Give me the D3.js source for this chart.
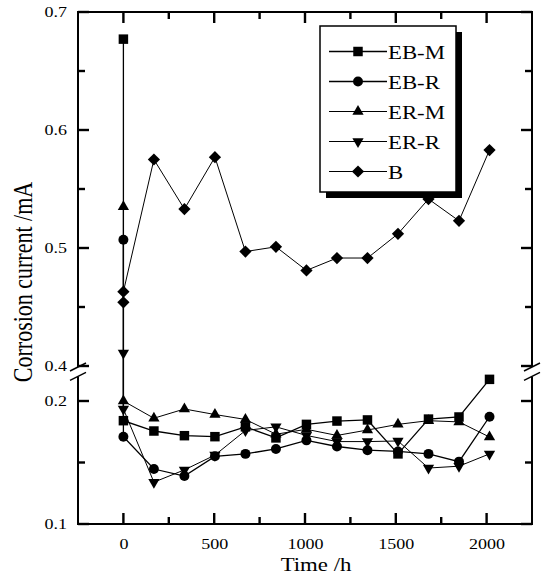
<!DOCTYPE html>
<html>
<head>
<meta charset="utf-8">
<script src="https://cdnjs.cloudflare.com/ajax/libs/d3/7.8.5/d3.min.js"></script>
<style>
body{margin:0;background:#fff}
text{font-family:"Liberation Serif","Times New Roman",serif;fill:#000}
</style>
</head>
<body>
<script>

// hours, first two readings both at t=0 (initial + after immersion)
var times = [0, 0, 168, 336, 504, 672, 840, 1008, 1176, 1344, 1512, 1680, 1848, 2016]

var ebM = [0.677, 0.184, 0.1756, 0.1718, 0.171, 0.179, 0.170, 0.181, 0.1837, 0.1846, 0.157, 0.1853, 0.187, 0.2176]
var ebR = [0.507, 0.171, 0.1447, 0.139, 0.155, 0.157, 0.161, 0.168, 0.163, 0.160, 0.159, 0.157, 0.1507, 0.1872]
var erM = [0.535, 0.200, 0.186, 0.1935, 0.189, 0.185, 0.173, 0.177, 0.172, 0.1764, 0.181, 0.184, 0.183, 0.1707]
var erR = [0.411, 0.1935, 0.134, 0.144, 0.156, 0.176, 0.179, 0.172, 0.167, 0.167, 0.1675, 0.1455, 0.147, 0.157]
var bVals = [0.454, 0.463, 0.575, 0.533, 0.577, 0.497, 0.501, 0.481, 0.4915, 0.4915, 0.512, 0.5415, 0.523, 0.583]

var names = ['EB-M', 'EB-R', 'ER-M', 'ER-R', 'B']

var xMajor = [0, 500, 1000, 1500, 2000],
	xMinor = [250, 750, 1250, 1750]
var yMajor = [0.1, 0.2, 0.4, 0.5, 0.6, 0.7],
	yMinor = [0.15, 0.45, 0.55, 0.65]

var W = 541, H = 576,
	pLeft = 78, pRight = 532, pTop = 12, pBottom = 524

var x = d3.scaleLinear().domain([-250, 2250]).range([pLeft, pRight])
// broken axis: 0.1-0.22 below the break, 0.4-0.7 above
var y = d3.scaleLinear().domain([0.1, 0.22, 0.4, 0.7]).range([pBottom, 376.4, 366, pTop])

var series = [
	{name: names[0], vals: ebM, sym: d3.symbolSquare, size: 90, rot: 0, w: 1.3},
	{name: names[1], vals: ebR, sym: d3.symbolCircle, size: 78, rot: 0, w: 1.3},
	{name: names[2], vals: erM, sym: d3.symbolTriangle, size: 55, rot: 0, w: 1},
	{name: names[3], vals: erR, sym: d3.symbolTriangle, size: 55, rot: 180, w: 1},
	{name: names[4], vals: bVals, sym: d3.symbolSquare, size: 75, rot: 45, w: 1}
]

var svg = d3.select('body').append('svg')
	.attr('width', W)
	.attr('height', H)

// tick labels from d3 axes (tick marks drawn separately below)
var xAxis = svg.append('g')
	.attr('transform', 'translate(0,' + pBottom + ')')
	.call(d3.axisBottom(x).tickValues(xMajor).tickSize(0).tickFormat(d3.format('d')))
	.attr('font-size', 15).attr('font-family', null)
xAxis.select('.domain').remove()
xAxis.selectAll('text').attr('y', 25).attr('dy', null).attr('transform', 'scale(1.2,1)')

var yAxis = svg.append('g')
	.attr('transform', 'translate(' + pLeft + ',0)')
	.call(d3.axisLeft(y).tickValues(yMajor).tickSize(0).tickFormat(d3.format('.1f')))
	.attr('font-size', 15).attr('font-family', null)
yAxis.select('.domain').remove()
yAxis.selectAll('text').attr('x', -9.2).attr('transform', 'scale(1.2,1)')

// inward ticks on all four sides
var tickG = svg.append('g').attr('fill', '#000')
function xTicks(vals, len){
	vals.forEach(function(v){
		tickG.append('rect').attr('x', x(v) - 1.2).attr('width', 2.4).attr('y', pBottom - len).attr('height', len)
		tickG.append('rect').attr('x', x(v) - 1.2).attr('width', 2.4).attr('y', pTop).attr('height', len)
	})
}
function yTicks(vals, len){
	vals.forEach(function(v){
		tickG.append('rect').attr('y', y(v) - 1.2).attr('height', 2.4).attr('x', pLeft).attr('width', len)
		tickG.append('rect').attr('y', y(v) - 1.2).attr('height', 2.4).attr('x', pRight - len).attr('width', len)
	})
}
xTicks(xMajor, 11)
xTicks(xMinor, 7)
yTicks(yMajor, 11)
yTicks(yMinor, 7)

// frame with the break on both sides
var frame = svg.append('g').attr('stroke', '#000').attr('stroke-width', 2)
frame.append('line').attr('x1', pLeft - 1).attr('x2', pRight + 1).attr('y1', pTop).attr('y2', pTop)
frame.append('line').attr('x1', pLeft - 1).attr('x2', pRight + 1).attr('y1', pBottom).attr('y2', pBottom)
var brkTop = y(0.4) + 1, brkBot = y(0.22)
;[pLeft, pRight].forEach(function(ex){
	frame.append('line').attr('x1', ex).attr('x2', ex).attr('y1', pTop).attr('y2', brkTop)
	frame.append('line').attr('x1', ex).attr('x2', ex).attr('y1', brkBot).attr('y2', pBottom)
	;[brkTop, brkBot].forEach(function(by){
		frame.append('line')
			.attr('x1', ex - 8).attr('y1', by + 4)
			.attr('x2', ex + 8).attr('y2', by - 4)
			.attr('stroke-width', 1.5)
	})
})

// data
var lineGen = d3.line()
	.x(function(d, i){ return x(times[i]) })
	.y(function(d){ return y(d) })

series.forEach(function(s){
	svg.append('path')
		.attr('d', lineGen(s.vals))
		.attr('fill', 'none')
		.attr('stroke', '#000')
		.attr('stroke-width', s.w)
})
series.forEach(function(s){
	var sym = d3.symbol().type(s.sym).size(s.size)
	svg.append('g').selectAll('path')
		.data(s.vals)
		.enter()
		.append('path')
		.attr('d', sym)
		.attr('transform', function(d, i){
			return 'translate(' + x(times[i]) + ',' + y(d) + ') rotate(' + s.rot + ')'
		})
		.attr('fill', '#000')
})

// legend
var lg = svg.append('g')
lg.append('rect').attr('x', 326).attr('y', 32).attr('width', 136).attr('height', 166).attr('fill', '#000')
lg.append('rect').attr('x', 320).attr('y', 26).attr('width', 136).attr('height', 166)
	.attr('fill', '#fff').attr('stroke', '#000').attr('stroke-width', 1.5)

series.forEach(function(s, i){
	var cy = 51.5 + i * 30
	lg.append('line').attr('x1', 329).attr('x2', 387).attr('y1', cy).attr('y2', cy)
		.attr('stroke', '#000').attr('stroke-width', s.w)
	lg.append('path')
		.attr('d', d3.symbol().type(s.sym).size(s.size))
		.attr('transform', 'translate(358,' + cy + ') rotate(' + s.rot + ')')
		.attr('fill', '#000')
	lg.append('text')
		.text(s.name)
		.attr('transform', 'translate(388,' + (cy + 7) + ') scale(1.2,1)')
		.style('font-size', '19px')
})

// titles
svg.append('text')
	.text('Time /h')
	.attr('text-anchor', 'middle')
	.attr('transform', 'translate(316,571) scale(1.2,1)')
	.style('font-size', '19px')
svg.append('text')
	.text('Corrosion current /mA')
	.attr('text-anchor', 'middle')
	.attr('transform', 'translate(32,282) rotate(-90) scale(1,1.2)')
	.style('font-size', '22px')

</script>
</body>
</html>
